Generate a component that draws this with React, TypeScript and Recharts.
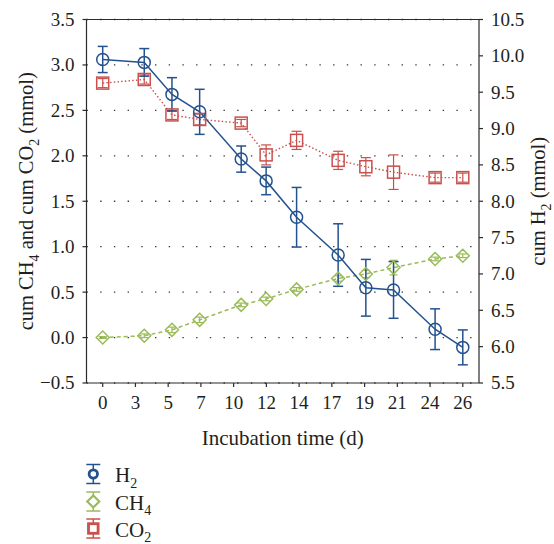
import React from "react";
import {
  ComposedChart,
  Line,
  XAxis,
  YAxis,
  CartesianGrid,
  ErrorBar,
  ReferenceLine,
  Legend,
} from "recharts";

const FONT = "'Liberation Serif', 'Times New Roman', serif";
const INK = "#231f20";
const AXIS = "#2b2b2b";
const BLUE = "#24528f";
const GREEN = "#9bbb59";
const RED = "#c9504d";

// days of sampling (x positions) and the labels written under the axis
const days = [0, 3, 5, 7, 10, 11.8, 14, 17, 19, 21, 24, 26];
const dayLabels = ["0", "3", "5", "7", "10", "12", "14", "17", "19", "21", "24", "26"];

// cumulative H2 (right axis, mmol)
const h2 = [9.95, 9.91, 9.47, 9.23, 8.58, 8.28, 7.78, 7.26, 6.81, 6.78, 6.24, 5.99];
const h2Err = [0.18, 0.19, 0.23, 0.31, 0.18, 0.19, 0.41, 0.43, 0.39, 0.39, 0.28, 0.24];

// cumulative CH4 (left axis, mmol)
const ch4 = [0.0, 0.02, 0.085, 0.195, 0.36, 0.425, 0.53, 0.65, 0.7, 0.77, 0.865, 0.9];
const ch4Err = [0.01, 0.02, 0.03, 0.03, 0.02, 0.02, 0.02, 0.03, 0.04, 0.08, 0.02, 0.02];

// cumulative CO2 (left axis, mmol)
const co2 = [2.8, 2.84, 2.45, 2.4, 2.36, 2.01, 2.17, 1.95, 1.88, 1.82, 1.76, 1.76];
const co2Err = [0.05, 0.05, 0.05, 0.06, 0.04, 0.11, 0.1, 0.1, 0.1, 0.19, 0.05, 0.05];

const leftTicks = [-0.5, 0, 0.5, 1, 1.5, 2, 2.5, 3, 3.5];
const rightTicks = [5.5, 6, 6.5, 7, 7.5, 8, 8.5, 9, 9.5, 10, 10.5];

const data = days.map((d, i) => ({
  day: d,
  h2: h2[i],
  h2Err: h2Err[i],
  ch4: ch4[i],
  ch4Err: ch4Err[i],
  co2: co2[i],
  co2Err: co2Err[i],
}));

// x ticks are spread evenly over the axis, labelled with the sampling days
const lastDay = days[days.length - 1];
const tickPos = dayLabels.map((_, i) => (i * lastDay) / (dayLabels.length - 1));

const fmt = (v: number) => (v < 0 ? "\u2212" + Math.abs(v).toFixed(1) : v.toFixed(1));
const dayLabel = (v: number) => dayLabels[Math.round((v / lastDay) * (dayLabels.length - 1))];

const TICK_SIZE = 19;

function XTick(props: any) {
  const { x, y, payload } = props;
  return (
    <text x={x} y={y} dy="0.71em" textAnchor="middle" fill={INK} fontSize={TICK_SIZE} fontFamily={FONT}>
      {dayLabel(payload.value)}
    </text>
  );
}

function YTick(props: any) {
  const { x, y, payload, textAnchor } = props;
  return (
    <text x={x} y={y} dy="0.34em" textAnchor={textAnchor} fill={INK} fontSize={TICK_SIZE} fontFamily={FONT}>
      {fmt(payload.value)}
    </text>
  );
}

function CircleDot(props: any) {
  const { cx, cy } = props;
  if (cx == null || cy == null) return null;
  return <circle cx={cx} cy={cy} r={6} fill="none" stroke={BLUE} strokeWidth={1.5} />;
}

function SquareDot(props: any) {
  const { cx, cy } = props;
  if (cx == null || cy == null) return null;
  return (
    <rect x={cx - 6} y={cy - 6} width={12} height={12} fill="none" stroke={RED} strokeWidth={1.5} />
  );
}

function DiamondDot(props: any) {
  const { cx, cy } = props;
  if (cx == null || cy == null) return null;
  return (
    <path
      d={`M${cx},${cy - 6.5}L${cx + 6.5},${cy}L${cx},${cy + 6.5}L${cx - 6.5},${cy}Z`}
      fill="none"
      stroke={GREEN}
      strokeWidth={1.5}
    />
  );
}

function Chem({ base, sub, size }: { base: string; sub: string; size: number }) {
  return (
    <>
      <tspan>{base}</tspan>
      <tspan dy={size * 0.3} fontSize={size * 0.68}>
        {sub}
      </tspan>
      <tspan dy={-size * 0.3}> </tspan>
    </>
  );
}

const TITLE_SIZE = 20.5;

function LeftTitle(props: any) {
  const vb = props.viewBox || { x: 0, y: 0, width: 0, height: 0 };
  const x = 33;
  const y = vb.y + vb.height / 2;
  return (
    <text
      x={x}
      y={y}
      transform={`rotate(-90 ${x} ${y})`}
      textAnchor="middle"
      fill={INK}
      fontSize={TITLE_SIZE}
      fontFamily={FONT}
    >
      <tspan>cum </tspan>
      <Chem base="CH" sub="4" size={TITLE_SIZE} />
      <tspan>and cum </tspan>
      <Chem base="CO" sub="2" size={TITLE_SIZE} />
      <tspan>(mmol)</tspan>
    </text>
  );
}

function RightTitle(props: any) {
  const vb = props.viewBox || { x: 0, y: 0, width: 0, height: 0 };
  const x = 545;
  const y = vb.y + vb.height / 2;
  return (
    <text
      x={x}
      y={y}
      transform={`rotate(-90 ${x} ${y})`}
      textAnchor="middle"
      fill={INK}
      fontSize={TITLE_SIZE}
      fontFamily={FONT}
    >
      <tspan>cum </tspan>
      <Chem base="H" sub="2" size={TITLE_SIZE} />
      <tspan>(mmol)</tspan>
    </text>
  );
}

function LegendBox() {
  const rows = [
    { base: "H", sub: "2", color: BLUE, shape: "circle", y: 29 },
    { base: "CH", sub: "4", color: GREEN, shape: "diamond", y: 56.5 },
    { base: "CO", sub: "2", color: RED, shape: "square", y: 83.5 },
  ];
  const ix = 93.3;
  return (
    <svg width={220} height={99} style={{ display: "block" }}>
      {rows.map((r) => (
        <g key={r.base}>
          <line x1={ix} x2={ix} y1={r.y - 9.5} y2={r.y + 9.5} stroke={r.color} strokeWidth={1.5} />
          <line x1={ix - 7} x2={ix + 7} y1={r.y - 9.5} y2={r.y - 9.5} stroke={r.color} strokeWidth={1.5} />
          <line x1={ix - 7} x2={ix + 7} y1={r.y + 9.5} y2={r.y + 9.5} stroke={r.color} strokeWidth={1.5} />
          {r.shape === "circle" && (
            <circle cx={ix} cy={r.y} r={4.2} fill="#fff" stroke={r.color} strokeWidth={2.8} />
          )}
          {r.shape === "diamond" && (
            <path
              d={`M${ix},${r.y - 6}L${ix + 6},${r.y}L${ix},${r.y + 6}L${ix - 6},${r.y}Z`}
              fill="#fff"
              stroke={r.color}
              strokeWidth={2.2}
            />
          )}
          {r.shape === "square" && (
            <rect x={ix - 4.8} y={r.y - 4.8} width={9.6} height={9.6} fill="#fff" stroke={r.color} strokeWidth={2.8} />
          )}
          <text x={115} y={r.y + 8} fill={INK} fontSize={21} fontFamily={FONT}>
            <tspan>{r.base}</tspan>
            <tspan dy={5.5} fontSize={14}>
              {r.sub}
            </tspan>
          </text>
        </g>
      ))}
    </svg>
  );
}

export default function App() {
  return (
    <div
      style={{
        position: "absolute",
        left: 0,
        top: 0,
        width: 554,
        height: 544,
        background: "#fff",
        fontFamily: FONT,
      }}
    >
      <ComposedChart
        width={554}
        height={544}
        data={data}
        margin={{ top: 19.5, right: 0, bottom: 0, left: 0 }}
        style={{ fontFamily: FONT }}
      >
        <CartesianGrid
          yAxisId="left"
          vertical={false}
          stroke="#3a3a3a"
          strokeWidth={1.3}
          strokeDasharray="1.4 12.3"
        />
        <XAxis
          dataKey="day"
          type="number"
          domain={[-1.17, 27.17]}
          ticks={tickPos}
          interval={0}
          height={62}
          tickSize={4}
          tickMargin={9}
          stroke={AXIS}
          strokeWidth={1.2}
          tick={<XTick />}
          label={{
            value: "Incubation time (d)",
            position: "insideBottom",
            offset: 0,
            fill: INK,
            fontSize: 21,
            fontFamily: FONT,
          }}
        />
        <YAxis
          yAxisId="left"
          domain={[-0.5, 3.5]}
          ticks={leftTicks}
          interval={0}
          width={86.5}
          tickSize={4}
          tickMargin={8}
          stroke={AXIS}
          strokeWidth={1.2}
          tick={<YTick />}
          label={(p: any) => <LeftTitle {...p} />}
        />
        <YAxis
          yAxisId="right"
          orientation="right"
          domain={[5.5, 10.5]}
          ticks={rightTicks}
          interval={0}
          width={75}
          tickSize={4}
          tickMargin={8}
          stroke={AXIS}
          strokeWidth={1.2}
          tick={<YTick />}
          label={(p: any) => <RightTitle {...p} />}
        />
        <ReferenceLine yAxisId="left" y={3.5} stroke={AXIS} strokeWidth={1.2} />
        <Legend
          verticalAlign="bottom"
          align="left"
          layout="horizontal"
          content={() => <LegendBox />}
        />
        <Line
          yAxisId="left"
          dataKey="co2"
          stroke={RED}
          strokeWidth={1.4}
          strokeDasharray="1.5 2.2"
          dot={<SquareDot />}
          activeDot={false}
          isAnimationActive={false}
        >
          <ErrorBar dataKey="co2Err" width={5} stroke={RED} strokeWidth={1.2} direction="y" />
        </Line>
        <Line
          yAxisId="left"
          dataKey="ch4"
          stroke={GREEN}
          strokeWidth={1.5}
          strokeDasharray="4 3"
          dot={<DiamondDot />}
          activeDot={false}
          isAnimationActive={false}
        >
          <ErrorBar dataKey="ch4Err" width={4} stroke={GREEN} strokeWidth={1.2} direction="y" />
        </Line>
        <Line
          yAxisId="right"
          dataKey="h2"
          stroke={BLUE}
          strokeWidth={1.5}
          dot={<CircleDot />}
          activeDot={false}
          isAnimationActive={false}
        >
          <ErrorBar dataKey="h2Err" width={5} stroke={BLUE} strokeWidth={1.5} direction="y" />
        </Line>
      </ComposedChart>
    </div>
  );
}
